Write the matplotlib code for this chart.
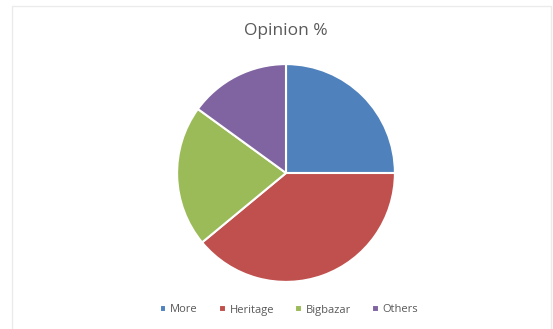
import matplotlib.pyplot as plt
from matplotlib.patches import Rectangle

# data
labels = ['More', 'Heritage', 'Bigbazar', 'Others']
values = [25, 39, 21, 15]
colors = ['#4F81BD', '#C0504D', '#9BBB59', '#8064A2']

plt.rcParams['font.family'] = ['Open Sans', 'DejaVu Sans']

W, H = 553, 329
fig = plt.figure(figsize=(W / 100, H / 100), dpi=100)
fig.patch.set_facecolor('white')

# faint chart border
fig.patches.append(Rectangle((12 / W, -0.01), (551 - 12) / W, 1 - 6 / H + 0.01, transform=fig.transFigure,
                             fill=False, edgecolor='#EBEBEB', linewidth=1))

# pie centred at (286, 173) px, radius 110 px
cx, cy, r = 286, 173, 110
ax = fig.add_axes([(cx - r) / W, (H - cy - r) / H, 2 * r / W, 2 * r / H])
wedges, _ = ax.pie(values, colors=colors, startangle=90, counterclock=False,
                   wedgeprops=dict(edgecolor='white', linewidth=1.5))
ax.set_xlim(-1.01, 1.01)
ax.set_ylim(-1.01, 1.01)
ax.set_aspect('equal')
ax.axis('off')

fig.text(cx / W, 1 - 31 / H, 'Opinion %', ha='center', va='center', fontsize=12.5, color='#595959')

leg = fig.legend(wedges, labels, loc='center', bbox_to_anchor=(289 / W, 1 - 310 / H), ncol=4,
                 frameon=False, fontsize=8, handlelength=0.6, handleheight=0.6,
                 handletextpad=0.35, columnspacing=1.9)
for t in leg.get_texts():
    t.set_color('#595959')

fig.savefig('out.png', dpi=100)
